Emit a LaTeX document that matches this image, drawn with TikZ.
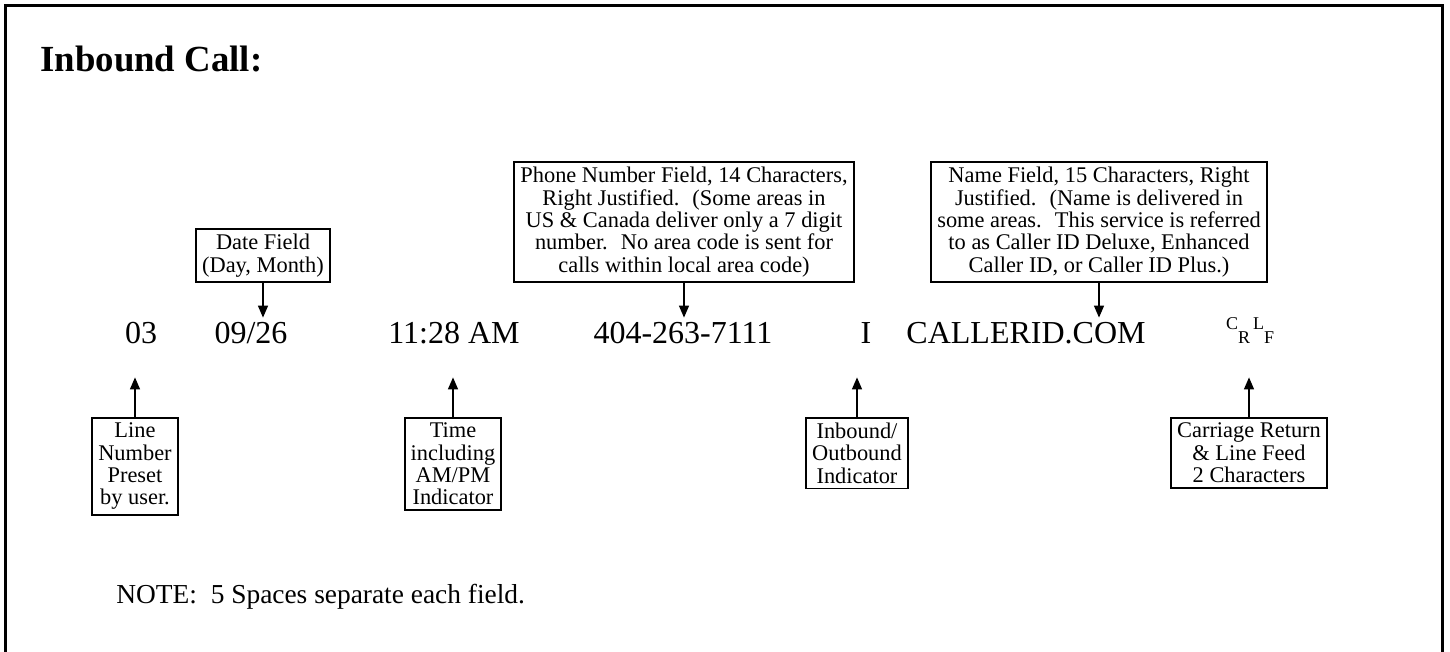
\documentclass[tikz,border=0pt]{standalone}
\usepackage{fontspec}
\setmainfont{Liberation Serif}
\usetikzlibrary{arrows.meta}

\newcommand{\crlfmark}{{\fontsize{9}{9}\selectfont
  \raisebox{6.6pt}{C}\raisebox{0pt}{R}\kern1.5pt
  \raisebox{6.6pt}{L}\raisebox{0pt}{F}}}

\tikzset{
  fieldbox/.style={draw, line width=0.9pt, align=center, inner xsep=3pt, inner ysep=2.5pt,
    font=\fontsize{11.2}{11.2}\selectfont},
  fieldtext/.style={anchor=base, inner sep=1.5pt, text height=11pt, text depth=0pt,
    font=\fontsize{16}{19}\selectfont},
  pointer/.style={-{Triangle[width=5pt,length=6pt]}, line width=0.7pt},
}

\begin{document}
\begin{tikzpicture}[x=0.5pt, y=-0.5pt]
  \useasboundingbox (0,0) rectangle (1450,652);
  % outer frame, open at the bottom
  \draw[line width=1.6pt] (5.5,652) -- (5.5,5.5) -- (1442.5,5.5) -- (1442.5,652);
  \node[anchor=base west, inner sep=0pt, font=\fontsize{18.4}{22}\selectfont\bfseries]
    (title) at (40,72) {Inbound Call:};

  % --- the record line ---
  \node[fieldtext] (line)  at (141,343)  {03};
  \node[fieldtext] (date)  at (251,343)  {09/26};
  \node[fieldtext] (time)  at (454,343)  {11:28 AM};
  \node[fieldtext] (phone) at (683,343)  {404-263-7111};
  \node[fieldtext] (inout) at (866,343)  {I};
  \node[fieldtext] (name)  at (1026,343) {CALLERID.COM};
  \node[fieldtext] (crlf)  at (1250,343) {\crlfmark};

  % --- boxes above ---
  \node[fieldbox, anchor=south] (datebox) at (263,283) {Date Field\\(Day, Month)};
  \node[fieldbox, anchor=south] (phonebox) at (684,283)
    {Phone Number Field, 14 Characters,\\Right Justified.~ (Some areas in\\
     US \& Canada deliver only a 7 digit\\number.~ No area code is sent for\\
     calls within local area code)};
  \node[fieldbox, anchor=south] (namebox) at (1099,283)
    {Name Field, 15 Characters, Right\\Justified.~ (Name is delivered in\\
     some areas.~ This service is referred\\to as Caller ID Deluxe, Enhanced\\
     Caller ID, or Caller ID Plus.)};

  % --- boxes below ---
  \node[fieldbox, anchor=north] (linebox) at (135,417) {Line\\Number\\Preset\\by user.};
  \node[fieldbox, anchor=north] (timebox) at (453,417) {Time\\including\\AM/PM\\Indicator};
  \node[fieldbox, anchor=north] (inoutbox) at (857,417) {Inbound/\\Outbound\\Indicator};
  \node[fieldbox, anchor=north] (crlfbox) at (1249,417) {Carriage Return\\\& Line Feed\\2 Characters};

  % pointers
  \draw[pointer] (datebox) -- (datebox.south |- date.north);
  \draw[pointer] (phonebox) -- (phonebox.south |- phone.north);
  \draw[pointer] (namebox) -- (namebox.south |- name.north);
  \draw[pointer, shorten >=15.5pt] (linebox) -- (linebox.north |- line.south);
  \draw[pointer, shorten >=15.5pt] (timebox) -- (timebox.north |- time.south);
  \draw[pointer, shorten >=15.5pt] (inoutbox) -- (inoutbox.north |- inout.south);
  \draw[pointer, shorten >=15.5pt] (crlfbox) -- (crlfbox.north |- crlf.south);

  \node[anchor=base west, inner sep=0pt, font=\fontsize{13.7}{17}\selectfont]
    (note) at (116,603) {NOTE:~ 5 Spaces separate each field.};
\end{tikzpicture}
\end{document}
